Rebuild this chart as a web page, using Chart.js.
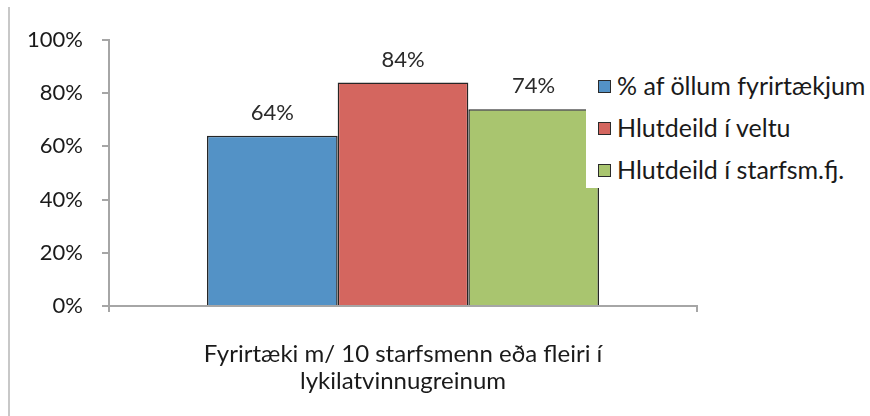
<!DOCTYPE html>
<html>
<head>
<meta charset="utf-8">
<script src="https://cdn.jsdelivr.net/npm/chart.js@4.4.1/dist/chart.umd.min.js"></script>
<style>
  html, body { margin: 0; padding: 0; background: #fff; }
  #wrap { position: relative; width: 870px; height: 416px; }
  #frame { position: absolute; left: 8px; top: 7px; bottom: 0; width: 2px; background: #c8c8c8; }
  #legend {
    position: absolute; left: 586px; top: 62px; width: 284px; height: 126px;
    background: #fff; font-family: Lato, sans-serif; font-size: 25px; color: #1a1a1a;
  }
  #legend div { position: absolute; left: 12px; height: 26px; line-height: 26px; white-space: nowrap; }
  #legend span.box {
    display: inline-block; width: 11px; height: 11px; border: 1.5px solid #2a2a2a;
    vertical-align: 2px; margin-right: 6px;
  }
</style>
</head>
<body>
<div id="wrap">
  <canvas id="chart" width="870" height="416"></canvas>
  <div id="frame"></div>
  <div id="legend"></div>
</div>
<script>
// Gögn
const flokkar = [['Fyrirtæki m/ 10 starfsmenn eða fleiri í', 'lykilatvinnugreinum']];
const radir = ['% af öllum fyrirtækjum', 'Hlutdeild í veltu', 'Hlutdeild í starfsm.fj.'];
const gildi = [[64], [84], [74]];
const litir = ['#5392c6', '#d4665f', '#a9c56f'];
const yTikk = [0, 20, 40, 60, 80, 100];

const letur = 'Lato, sans-serif';

// Prósentumerki ofan á súlum
const merkiPlugin = {
  id: 'merki',
  afterDatasetsDraw(chart) {
    const ctx = chart.ctx;
    ctx.save();
    ctx.font = '22px ' + letur;
    ctx.fillStyle = '#2a2a2a';
    ctx.textAlign = 'center';
    ctx.textBaseline = 'middle';
    chart.data.datasets.forEach((ds, i) => {
      chart.getDatasetMeta(i).data.forEach((bar, j) => {
        ctx.fillText(ds.data[j] + '%', bar.x, bar.y - 23);
      });
    });
    ctx.restore();
  }
};

const chart = new Chart(document.getElementById('chart'), {
  type: 'bar',
  data: {
    labels: flokkar,
    datasets: radir.map((nafn, i) => ({
      label: nafn,
      data: gildi[i],
      backgroundColor: litir[i],
      borderColor: '#262626',
      borderWidth: 1.5,
      categoryPercentage: 2 / 3,
      barPercentage: 1
    }))
  },
  options: {
    responsive: false,
    animation: false,
    layout: { padding: { top: 40, right: 173, left: 0, bottom: 0 } },
    plugins: {
      legend: { display: false },
      tooltip: { enabled: false }
    },
    scales: {
      x: {
        grid: { display: true, drawOnChartArea: false, drawTicks: true, tickLength: 6, color: '#a6a6a6', lineWidth: 2 },
        border: { color: '#a6a6a6', width: 2 },
        ticks: { color: '#1a1a1a', padding: 29, font: { family: letur, size: 24, lineHeight: 1.125 } },
        afterFit(s) { s.height = 110; }
      },
      y: {
        min: 0,
        max: 100,
        afterBuildTicks(s) { s.ticks = yTikk.map(v => ({ value: v })); },
        grid: { display: true, drawOnChartArea: false, drawTicks: true, tickLength: 7, color: '#a6a6a6', lineWidth: 2 },
        border: { color: '#a6a6a6', width: 2 },
        ticks: { color: '#1a1a1a', padding: 19, font: { family: letur, size: 22 }, callback: v => v + '%' },
        afterFit(s) { s.width = 109; }
      }
    }
  },
  plugins: [merkiPlugin]
});

// HTML skýring byggð úr gagnaröðum
const leg = document.getElementById('legend');
const rodTop = [10, 52, 94];
chart.data.datasets.forEach((ds, i) => {
  const d = document.createElement('div');
  d.style.top = rodTop[i] + 'px';
  d.innerHTML = '<span class="box" style="background:' + ds.backgroundColor + '"></span>' + ds.label;
  leg.appendChild(d);
});
</script>
</body>
</html>
